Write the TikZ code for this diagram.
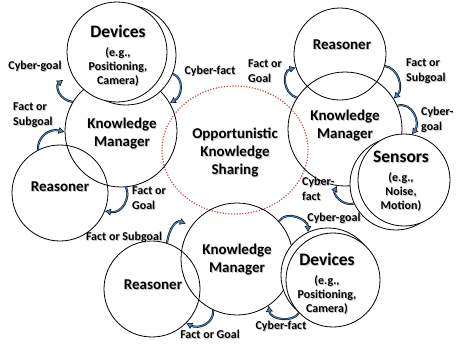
\documentclass[tikz,border=0pt]{standalone}
\usepackage{fontspec}
\setmainfont{Carlito}
\usepackage{xcolor}
\usepackage{tikz}
\usetikzlibrary{arrows.meta}
\usetikzlibrary{shapes.geometric}

\definecolor{sharered}{RGB}{192,80,77}
\definecolor{arrowblue}{RGB}{79,129,189}

\newcommand{\sh}[1]{\leavevmode\rlap{\kern0.9pt\raisebox{-0.9pt}{\color{black!22}#1}}#1}

\begin{document}
\begin{tikzpicture}[x=1pt, y=-1pt,
    orb/.style={circle, draw=black, line width=0.8pt, inner sep=0pt},
    orbfill/.style={orb, fill=white},
    big/.style={font=\bfseries\fontsize{15}{18}\selectfont, align=center},
    dev/.style={font=\bfseries\fontsize{12}{14}\selectfont, align=center},
    tag/.style={font=\bfseries\fontsize{12}{15}\selectfont, align=left, inner sep=0pt},
    flow/.style={draw=black, line width=2pt,
        -{Latex[length=6pt, width=7pt, line width=0.5pt, fill=arrowblue]},
        postaction={draw=arrowblue, line width=1pt, -, shorten >=5pt}}]
    \useasboundingbox (0,0) rectangle (457,343);

    \node[ellipse, draw=sharered, line width=1.2pt, dash pattern=on 1.2pt off 1.6pt,
        minimum width=146pt, minimum height=128pt, inner sep=0pt] (share) at (235,150) {};

    \node[orb, minimum size=112pt] (kmA) at (121,131) {};
    \node[orb, minimum size=96pt]  (reaA) at (60,193) {};
    \node[orb, minimum size=114pt] (kmB) at (345,129) {};
    \node[orb, minimum size=92pt]  (reaB) at (340,54) {};
    \node[orb, minimum size=112pt] (kmC) at (237,259) {};
    \node[orb, minimum size=96pt]  (reaC) at (152,289) {};

    \node[orbfill, minimum size=100pt] (devAb) at (126,55) {};
    \node[orbfill, minimum size=100pt] (devA) at (117,52) {};
    \node[orbfill, minimum size=92pt]  (senBb) at (396,184) {};
    \node[orbfill, minimum size=92pt]  (senB) at (404,180) {};
    \node[orbfill, minimum size=94pt]  (devCb) at (328,275) {};
    \node[orbfill, minimum size=94pt]  (devC) at (333,280) {};

    \node[big] (sharetext) at (235,153) {\sh{Opportunistic}\\\sh{Knowledge}\\\sh{Sharing}};
    \node[big] (kmAtext) at (122,134) {\sh{Knowledge}\\\sh{Manager}};
    \node[big] (reaAtext) at (60,187) {\sh{Reasoner}};
    \node[big] (kmBtext) at (345,126) {\sh{Knowledge}\\\sh{Manager}};
    \node[big] (reaBtext) at (342,45) {\sh{Reasoner}};
    \node[big] (kmCtext) at (237,260) {\sh{Knowledge}\\\sh{Manager}};
    \node[big] (reaCtext) at (153,285) {\sh{Reasoner}};
    \node[dev] (devAtext) at (118,56)
        {{\fontsize{17.5}{20}\selectfont\sh{Devices}}\\[5pt]\sh{(e.g.,}\\\sh{Positioning,}\\\sh{Camera)}};
    \node[dev] (senBtext) at (401,182)
        {{\fontsize{17.5}{20}\selectfont\sh{Sensors}}\\[5pt]\sh{(e.g.,}\\\sh{Noise,}\\\sh{Motion)}};
    \node[dev] (devCtext) at (327,284)
        {{\fontsize{17.5}{20}\selectfont\sh{Devices}}\\[5pt]\sh{(e.g.,}\\\sh{Positioning,}\\\sh{Camera)}};

    % left agent
    \draw[flow] (kmA.149) .. controls +(-14,-2) and +(-8,6) .. ([xshift=-9pt, yshift=-5pt]devA.207);
    \draw[flow] (reaA.117) .. controls +(-1,-13) and +(-15,-4) .. (kmA.181);
    \draw[flow] (devAb.338) .. controls +(12,4) and +(12,-6) .. (kmA.30);
    \draw[flow] (kmA.275) .. controls +(5,9) and +(18,3) .. (reaA.338);

    % right agent
    \draw[flow] (kmB.147) .. controls +(-14,-4) and +(-14,4) .. (reaB.197);
    \draw[flow] (reaB.345) .. controls +(14,2) and +(10,-10) .. (kmB.32);
    \draw[flow] (kmB.24) .. controls +(16,-4) and +(8,-11) .. (senB.80);
    \draw[flow] (senBb.205) .. controls +(-12,3) and +(-4,8) .. (kmB.262);

    % bottom agent
    \draw[flow] (reaC.72) .. controls +(2,-14) and +(-10,-4) .. ([xshift=-5pt, yshift=3pt]kmC.145);
    \draw[flow] (kmC.245) .. controls +(1,14) and +(12,6) .. (reaC.315);
    \draw[flow] (devC.224) .. controls +(-6,10) and +(2,14) .. (kmC.304);
    \draw[flow] (kmC.42) .. controls +(8,-12) and +(0,-12) .. (devCb.115);

    \node[tag] (cgA) at (35,67) {\sh{Cyber-goal}};
    \node[tag, anchor=west] (fsA) at (13,116) {\sh{Fact or}\\\sh{Subgoal}};
    \node[tag] (cfA) at (210,72) {\sh{Cyber-fact}};
    \node[tag, anchor=west] (fgA) at (132,199) {\sh{Fact or}\\\sh{Goal}};
    \node[tag, anchor=west] (fgB) at (248,72) {\sh{Fact or}\\\sh{Goal}};
    \node[tag, anchor=west] (fsB) at (406,72) {\sh{Fact or}\\\sh{Subgoal}};
    \node[tag, anchor=west] (cgB) at (421,120) {\sh{Cyber-}\\\sh{goal}};
    \node[tag, anchor=west] (cfB) at (302,189) {\sh{Cyber-}\\\sh{fact}};
    \node[tag] (fsC) at (124,238) {\sh{Fact or Subgoal}};
    \node[tag] (fgC) at (210,335) {\sh{Fact or Goal}};
    \node[tag] (cfC) at (281,327) {\sh{Cyber-fact}};
    \node[tag] (cgC) at (334,219) {\sh{Cyber-goal}};
\end{tikzpicture}
\end{document}
